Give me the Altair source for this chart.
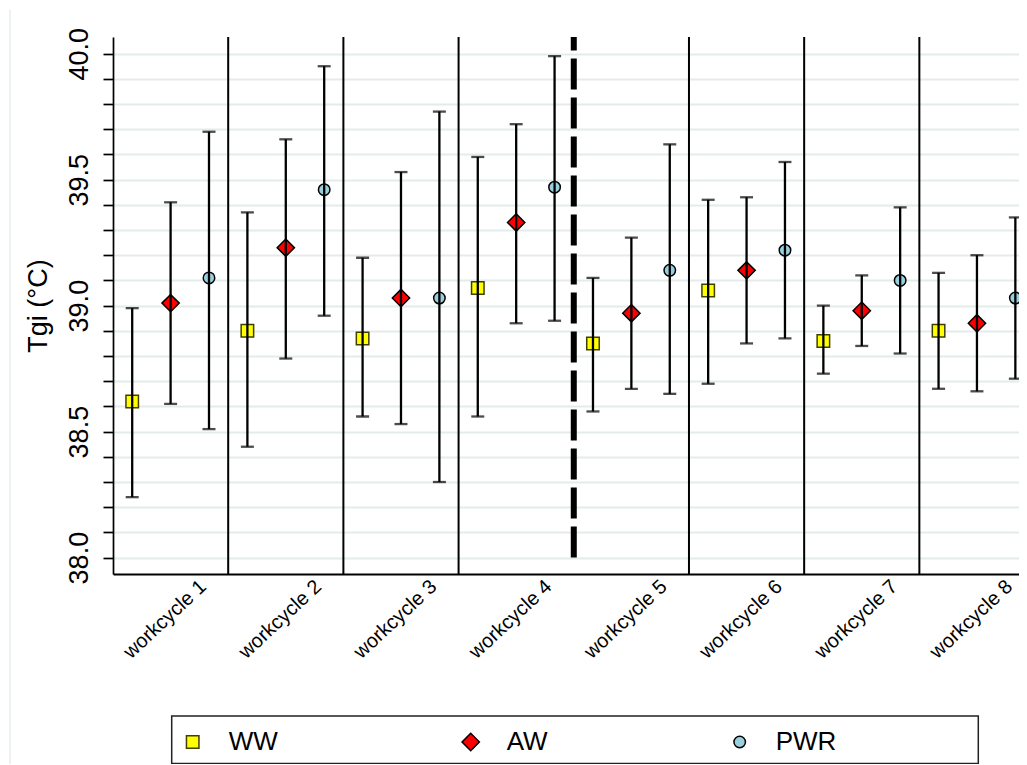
import altair as alt
import pandas as pd

# ---- data ----
cycles = ["workcycle 1", "workcycle 2", "workcycle 3", "workcycle 4",
          "workcycle 5", "workcycle 6", "workcycle 7", "workcycle 8"]
series = ["WW", "AW", "PWR"]

ww_mean = [38.62, 38.90, 38.87, 39.07, 38.85, 39.06, 38.86, 38.90]
ww_lo   = [38.24, 38.44, 38.56, 38.56, 38.58, 38.69, 38.73, 38.67]
ww_hi   = [38.99, 39.37, 39.19, 39.59, 39.11, 39.42, 39.00, 39.13]

aw_mean = [39.01, 39.23, 39.03, 39.33, 38.97, 39.14, 38.98, 38.93]
aw_lo   = [38.61, 38.79, 38.53, 38.93, 38.67, 38.85, 38.84, 38.66]
aw_hi   = [39.41, 39.66, 39.53, 39.72, 39.27, 39.43, 39.12, 39.20]

pwr_mean = [39.11, 39.46, 39.03, 39.47, 39.14, 39.22, 39.10, 39.03]
pwr_lo   = [38.51, 38.96, 38.30, 38.94, 38.65, 38.87, 38.81, 38.71]
pwr_hi   = [39.69, 39.95, 39.77, 39.99, 39.64, 39.57, 39.39, 39.35]

y_ticks = [38.0, 38.1, 38.2, 38.3, 38.4, 38.5, 38.6, 38.7, 38.8, 38.9,
           39.0, 39.1, 39.2, 39.3, 39.4, 39.5, 39.6, 39.7, 39.8, 39.9, 40.0]

dashed_after = 4  # dashed separator between workcycle 4 and 5

# ---- styling ----
offsets = {"WW": -1 / 3, "AW": 0.0, "PWR": 1 / 3}
fills = ["#ffff00", "#ff0000", "#9ad0de"]
strokes = ["#404000", "#000000", "#000000"]
shapes = ["square", "diamond", "circle"]
sizes = [156, 300, 132]
FONT = "Liberation Sans"

means = {"WW": ww_mean, "AW": aw_mean, "PWR": pwr_mean}
los = {"WW": ww_lo, "AW": aw_lo, "PWR": pwr_lo}
his = {"WW": ww_hi, "AW": aw_hi, "PWR": pwr_hi}

rows = []
for s in series:
    for i, c in enumerate(cycles):
        rows.append({"series": s, "cycle": c, "idx": i + 1,
                     "mean": means[s][i], "lo": los[s][i], "hi": his[s][i]})
df = pd.DataFrame(rows)
df["pos"] = df["idx"] + df["series"].map(offsets)

n = len(cycles)
bounds = pd.DataFrame({"pos": [k + 0.5 for k in range(1, n) if k != dashed_after]})
dashed = pd.DataFrame({"pos": [dashed_after + 0.5], "mean": [y_ticks[0]]})

xscale = alt.Scale(domain=[0.5, 8.365], nice=False, zero=False)
yscale = alt.Scale(domain=[37.935, 40.066], nice=False, zero=False)

label_arr = "[" + ",".join("'%s'" % c for c in cycles) + "]"

x_axis = alt.Axis(values=list(range(1, n + 1)),
                  labelExpr=label_arr + "[datum.value - 1]",
                  title=None, ticks=False, tickSize=0, grid=False,
                  labelAngle=317, labelAlign="center", labelBaseline="middle",
                  labelPadding=45, labelOffset=-6, labelFontSize=20, labelFont=FONT,
                  labelColor="black", labelOverlap=False,
                  domainColor="black", domainWidth=2)

y_axis = alt.Axis(values=y_ticks,
                  labelExpr="abs(datum.value * 2 - round(datum.value * 2)) < 0.001 ? format(datum.value, '.1f') : ''",
                  title="Tgi (°C)", titleFont=FONT, titleFontSize=27,
                  titleFontWeight="normal", titleColor="black", titlePadding=13,
                  labelAngle=270, labelAlign="center", labelBaseline="bottom",
                  labelFont=FONT, labelFontSize=27, labelColor="black",
                  labelPadding=10, labelOverlap=False,
                  tickSize=10, tickColor="black", tickWidth=1.7,
                  domainColor="black", domainWidth=1.7,
                  grid=True, gridColor="#e3ebeb", gridWidth=2)

legend = alt.Legend(orient="none", legendX=55.7, legendY=681,
                    direction="horizontal", title=None,
                    labelFont=FONT, labelFontSize=26, labelColor="black",
                    labelOffset=23, columnPadding=179, padding=11,
                    symbolStrokeWidth=1.5, labelLimit=300)

X = alt.X("pos:Q", scale=xscale, axis=x_axis)

one = pd.DataFrame({"k": [0]})

# faint outer frame of the graph region
outer = alt.Chart(one).mark_rule(color="#e6ecec", strokeWidth=1.5).encode(
    x=alt.value(-103), y=alt.value(-27), y2=alt.value(728))

# frame of the legend box (drawn behind the legend entries)
frame = alt.Chart(one).mark_rect(
    fill="white", stroke="#222222", strokeWidth=1.5).encode(
    x=alt.value(58.7), x2=alt.value(865.3), y=alt.value(679), y2=alt.value(726.5))

sep = alt.Chart(bounds).mark_rule(color="black", strokeWidth=2).encode(x=X)

dash = alt.Chart(dashed).mark_rule(color="black", strokeWidth=6, strokeDash=[31, 8]).encode(
    x=X,
    y=alt.Y("mean:Q", scale=yscale, axis=y_axis),
    y2=alt.value(0))

base = alt.Chart(df)

points = base.mark_point(filled=True, opacity=1, strokeWidth=1.5).encode(
    x=X,
    y=alt.Y("mean:Q", scale=yscale, axis=y_axis),
    color=alt.Color("series:N", scale=alt.Scale(domain=series, range=fills), legend=legend),
    shape=alt.Shape("series:N", scale=alt.Scale(domain=series, range=shapes), legend=legend),
    size=alt.Size("series:N", scale=alt.Scale(type="ordinal", domain=series, range=sizes), legend=legend),
    stroke=alt.Stroke("series:N", scale=alt.Scale(domain=series, range=strokes), legend=legend),
)

whisk = base.mark_rule(color="black", strokeWidth=2.3).encode(
    x=X,
    y=alt.Y("lo:Q", scale=yscale, axis=y_axis),
    y2="hi:Q")

cap_hi = base.mark_tick(color="black", orient="horizontal", size=13, thickness=2.3).encode(
    x=X, y=alt.Y("hi:Q", scale=yscale, axis=y_axis))

cap_lo = base.mark_tick(color="black", orient="horizontal", size=13, thickness=2.3).encode(
    x=X, y=alt.Y("lo:Q", scale=yscale, axis=y_axis))

chart = alt.layer(outer, frame, points, sep, dash, whisk, cap_hi, cap_lo).properties(
    width=906, height=537,
    autosize=alt.AutoSizeParams(type="none"),
    padding={"left": 105, "top": 29, "right": 0, "bottom": 190},
    background="white",
).configure_view(stroke=None)

chart.save("out.html", embed_options={"renderer": "svg", "actions": False})
